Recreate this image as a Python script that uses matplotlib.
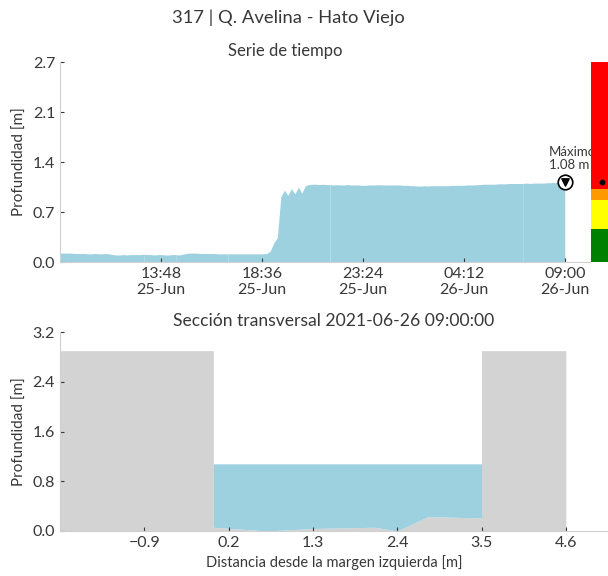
import numpy as np
import pandas as pd
import matplotlib
matplotlib.use("Agg")
import matplotlib.pyplot as plt
import matplotlib.dates as mdates

plt.rcParams["font.family"] = ["Lato", "DejaVu Sans"]
TXT = "#383838"

# --- serie de tiempo (lecturas cada 10 min, 25-Jun 09:00 -> 26-Jun 09:00)
t0 = pd.Timestamp("2021-06-25 09:00")
depth = [
    0.12, 0.12, 0.12, 0.12, 0.115, 0.115,   # 09h
    0.115, 0.115, 0.11, 0.11, 0.115, 0.11,  # 10h
    0.11, 0.115, 0.11, 0.10, 0.095, 0.095,  # 11h
    0.10, 0.095, 0.10, 0.10, 0.10, 0.10,    # 12h
    0.105, 0.10, 0.10, 0.095, 0.10, 0.10,   # 13h
    0.095, 0.095, 0.10, 0.10, 0.095, 0.105, # 14h
    0.115, 0.12, 0.12, 0.12, 0.115, 0.115,  # 15h
    0.115, 0.115, 0.115, 0.11, 0.11, 0.11,  # 16h
    0.11, 0.11, 0.11, 0.11, 0.11, 0.11,     # 17h
    0.11, 0.11, 0.11, 0.11, 0.11, 0.115,    # 18h
    0.15, 0.26, 0.33, 0.88, 0.97, 0.90,     # 19h
    0.99, 0.92, 1.01, 0.93, 1.03, 1.045,    # 20h
    1.05, 1.05, 1.045, 1.05, 1.045, 1.045,  # 21h
    1.04, 1.045, 1.04, 1.04, 1.045, 1.04,   # 22h
    1.04, 1.04, 1.035, 1.035, 1.04, 1.04,   # 23h
    1.04, 1.045, 1.04, 1.04, 1.04, 1.04,    # 00h
    1.04, 1.04, 1.035, 1.035, 1.03, 1.03,   # 01h
    1.025, 1.025, 1.03, 1.025, 1.03, 1.03,  # 02h
    1.03, 1.03, 1.03, 1.03, 1.035, 1.035,   # 03h
    1.035, 1.035, 1.04, 1.04, 1.04, 1.045,  # 04h
    1.045, 1.05, 1.05, 1.05, 1.05, 1.055,   # 05h
    1.055, 1.055, 1.06, 1.06, 1.06, 1.06,   # 06h
    1.06, 1.065, 1.06, 1.065, 1.065, 1.065, # 07h
    1.065, 1.07, 1.07, 1.075, 1.075, 1.075, # 08h
    1.08,                                   # 09h
]
times = t0 + pd.to_timedelta(np.arange(len(depth)) * 10, unit="min")
gap_idx = [24, 33, 48, 77, 96, 132]   # cortes en el registro

max_val = 1.08
umbrales = [0.0, 0.45, 0.84, 0.99, 2.7]
umbral_colors = ["#008000", "#ffff00", "#ff9900", "#ff0000"]

# --- seccion transversal
bank_x = [-2.0, 0.0, 0.0, 0.7, 1.3, 2.1, 2.4, 2.8, 3.5, 3.5, 4.6]
bank_z = [2.9, 2.9, 0.06, 0.0, 0.04, 0.06, 0.0, 0.23, 0.21, 2.9, 2.9]
bed_x = [0.0, 0.7, 1.3, 2.1, 2.4, 2.8, 3.5]
bed_z = [0.06, 0.0, 0.04, 0.06, 0.0, 0.23, 0.21]
nivel = 1.08

W, H = 608, 576
fig = plt.figure(figsize=(W / 100, H / 100), dpi=100)


def box(l, t, r, b):
    return [l / W, 1 - b / H, (r - l) / W, (b - t) / H]


def style(ax):
    for s in ["top", "right"]:
        ax.spines[s].set_visible(False)
    for s in ["left", "bottom"]:
        ax.spines[s].set_color("#d0d0d0")
    ax.tick_params(direction="in", length=3, color=TXT, labelcolor=TXT, labelsize=11.5)


ax1 = fig.add_axes(box(60, 62, 590, 262))
style(ax1)
bounds = [0] + gap_idx + [len(depth) - 1]
for a, b in zip(bounds[:-1], bounds[1:]):
    ax1.fill_between(times[a:b + 1], 0, depth[a:b + 1], color="#9ed1e0", lw=0)
ax1.scatter([times[-1]], [max_val], s=110, facecolor="white", edgecolor="black", lw=1.2, zorder=5)
ax1.scatter([times[-1]], [max_val], s=28, marker="v", color="black", zorder=6)
ax1.annotate("Máximo\n%.2f m" % max_val, (times[-1], max_val), xytext=(-16, 11),
             textcoords="offset pixels", ha="left", va="bottom", fontsize=9.5,
             color=TXT, linespacing=1.1)
span = times[-1] - times[0]
ax1.set_xlim(times[0], times[0] + span * 1.05)
ax1.set_ylim(0, 2.7)
ax1.set_yticks(np.linspace(0, 2.7, 5))
ax1.set_yticklabels(["0.0", "0.7", "1.4", "2.1", "2.7"])
ax1.set_xticks([times[0] + span * k / 5 for k in range(1, 6)])
ax1.xaxis.set_major_formatter(mdates.DateFormatter("%H:%M\n%d-%b"))
ax1.set_ylabel("Profundidad [m]", fontsize=11, color=TXT)
ax1.set_title("Serie de tiempo", fontsize=12, color=TXT, x=0.425, pad=4)

axc = fig.add_axes(box(591, 62, 612, 262))
for lo, hi, c in zip(umbrales[:-1], umbrales[1:], umbral_colors):
    axc.bar(0, hi - lo, bottom=lo, width=1, color=c, lw=0)
axc.scatter([0.02], [max_val], s=10, color="black", zorder=3)
axc.set_xlim(-0.5, 0.5)
axc.set_ylim(0, 2.7)
axc.axis("off")

ax2 = fig.add_axes(box(60, 332, 608, 531))
style(ax2)
ax2.fill_between(bank_x, 0, bank_z, color="#d3d3d3", lw=0)
ax2.fill_between(bed_x, bed_z, nivel, color="#9ed1e0", lw=0)
ax2.set_xlim(-2.0, 5.15)
ax2.set_ylim(0, 3.2)
ax2.set_yticks(np.linspace(0, 3.2, 5))
ax2.set_xticks([-0.9, 0.2, 1.3, 2.4, 3.5, 4.6])
ax2.set_ylabel("Profundidad [m]", fontsize=11, color=TXT)
ax2.set_xlabel("Distancia desde la margen izquierda [m]", fontsize=10.5, color=TXT, labelpad=4)
ax2.set_title("Sección transversal 2021-06-26 09:00:00", fontsize=12.6, color=TXT, pad=4)

fig.text(288 / W, 1 - 18 / H, "317 | Q. Avelina - Hato Viejo", ha="center", va="center",
         fontsize=13.2, color=TXT)

fig.savefig("out.png", dpi=100)
